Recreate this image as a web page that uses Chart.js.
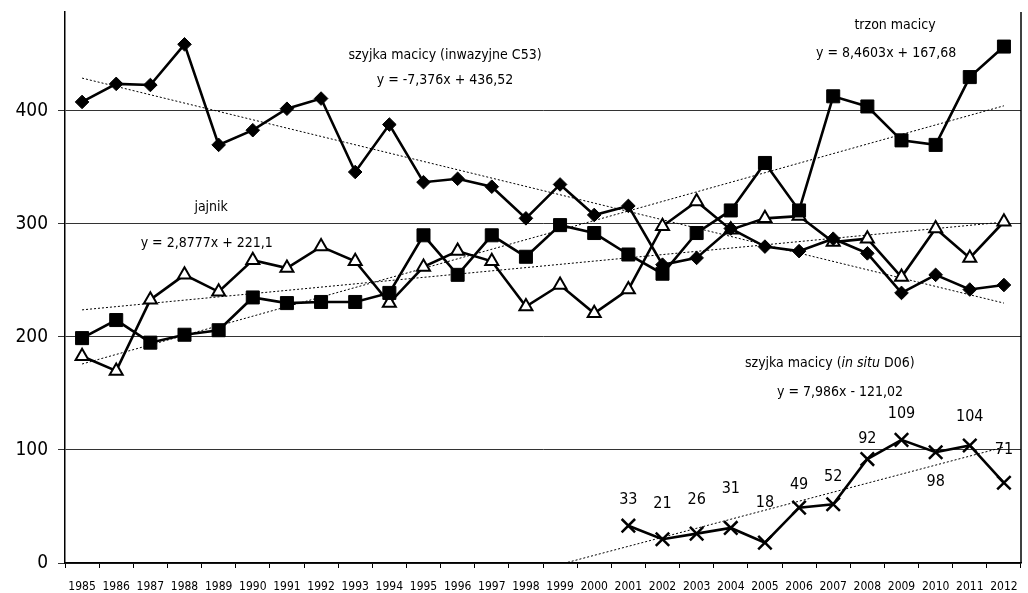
<!DOCTYPE html>
<html><head><meta charset="utf-8">
<script src="https://cdn.jsdelivr.net/npm/chart.js@4.4.1/dist/chart.umd.min.js"></script>
<style>html,body{margin:0;padding:0;background:#fff}</style>
</head><body>
<canvas id="c" width="1028" height="593" style="display:block;width:1028px;height:593px"></canvas>
<script>
const years = ['1985','1986','1987','1988','1989','1990','1991','1992','1993','1994','1995','1996','1997','1998','1999','2000','2001','2002','2003','2004','2005','2006','2007','2008','2009','2010','2011','2012'];
const cervixC53 = [408,424,423,459,370,383,402,411,346,388,337,340,333,305,335,308,316,264,270,296,280,276,287,274,239,255,242,246];
const corpus = [199,215,195,202,206,235,230,231,231,239,290,255,290,271,299,292,273,256,292,312,354,312,413,404,374,370,430,457];
const ovary = [183,170,233,255,240,268,261,280,267,230,262,276,267,227,246,221,242,298,320,295,305,307,284,287,253,296,270,302];
const cervixD06 = [null,null,null,null,null,null,null,null,null,null,null,null,null,null,null,null,33,21,26,31,18,49,52,92,109,98,104,71];
// trend line end values (first / last year of each trend)
const trendC53 = [429.1, 230.0];
const trendCorpus = [176.1, 404.6];
const trendOvary = [224.0, 301.7];
const trendD06Years = ['1999','2012'];
const trendD06 = [-1.2, 102.6];
const yTicks = [0,100,200,300,400];

const FONT = "'DejaVu Sans Condensed','Liberation Sans Narrow','Open Sans',sans-serif";

function trend(vals, yrs){ return [{x: yrs[0], y: vals[0]}, {x: yrs[1], y: vals[1]}]; }

const labelPlugin = {
  id: 'labels',
  afterDraw(chart){
    const ctx = chart.ctx;
    const xs = chart.scales.x, ys = chart.scales.y;
    const a = chart.chartArea;
    ctx.save();
    // right frame line
    ctx.strokeStyle = '#000';
    ctx.lineWidth = 1.5;
    ctx.beginPath(); ctx.moveTo(a.right, a.top); ctx.lineTo(a.right, a.bottom); ctx.stroke();
    ctx.fillStyle = '#000';
    // x axis category labels
    ctx.font = "12px " + FONT;
    ctx.textAlign = 'center';
    ctx.textBaseline = 'middle';
    years.forEach((y, i) => { ctx.fillText(y, xs.getPixelForTick(i), xs.top + 24); });
    // data labels for in situ series
    const meta = chart.getDatasetMeta(3);
    const offs = [-26,-35,-34,-39,-40,-23,-27,-20,-26,30,-29,-33];
    ctx.font = "16px " + FONT;
    let k = 0;
    meta.data.forEach((el, i) => {
      const v = cervixD06[i];
      if (v == null) return;
      ctx.fillText(String(v), el.x, el.y + offs[k]);
      k++;
    });
    const notes = [
      {p:[['szyjka macicy (inwazyjne C53)','']], x:10.63, y:449.6},
      {p:[['y = -7,376x + 436,52','']], x:10.63, y:427.4},
      {p:[['jajnik','']], x:3.78, y:315},
      {p:[['y = 2,8777x + 221,1','']], x:3.65, y:283},
      {p:[['trzon macicy','']], x:23.81, y:476},
      {p:[['y = 8,4603x + 167,68','']], x:23.55, y:451},
      {p:[['szyjka macicy (',''],['in situ','italic '],[' D06)','']], x:21.9, y:177},
      {p:[['y = 7,986x - 121,02','']], x:22.2, y:151.3}
    ];
    ctx.textAlign = 'left';
    notes.forEach(n => {
      let w = 0;
      n.p.forEach(([t, s]) => { ctx.font = s + "14px " + FONT; w += ctx.measureText(t).width; });
      let cx = xs.getPixelForValue(n.x) - w/2;
      const cy = ys.getPixelForValue(n.y);
      n.p.forEach(([t, s]) => { ctx.font = s + "14px " + FONT; ctx.fillText(t, cx, cy); cx += ctx.measureText(t).width; });
    });
    ctx.restore();
  }
};

new Chart(document.getElementById('c'), {
  type: 'line',
  data: {
    labels: years,
    datasets: [
      {data: cervixC53, borderColor:'#000', borderWidth:2.6, pointStyle:'rectRot', pointRadius:6.8, pointBackgroundColor:'#000', pointBorderColor:'#000', pointBorderWidth:1, tension:0},
      {data: corpus, borderColor:'#000', borderWidth:2.6, pointStyle:'rect', pointRadius:9.2, pointBackgroundColor:'#000', pointBorderColor:'#000', pointBorderWidth:1, tension:0},
      {data: ovary, borderColor:'#000', borderWidth:2.6, pointStyle:'triangle', pointRadius:7.5, pointBackgroundColor:'#fff', pointBorderColor:'#000', pointBorderWidth:2, tension:0},
      {data: cervixD06, borderColor:'#000', borderWidth:2.6, pointStyle:'crossRot', pointRadius:9.5, pointBorderColor:'#000', pointBorderWidth:2.5, tension:0},
      {data: trend(trendC53, [years[0], years[27]]), borderColor:'#000', borderWidth:1, borderDash:[2,2], pointRadius:0},
      {data: trend(trendCorpus, [years[0], years[27]]), borderColor:'#000', borderWidth:1, borderDash:[2,2], pointRadius:0},
      {data: trend(trendOvary, [years[0], years[27]]), borderColor:'#000', borderWidth:1, borderDash:[2,2], pointRadius:0},
      {data: trend(trendD06, trendD06Years), borderColor:'#000', borderWidth:1, borderDash:[2,2], pointRadius:0}
    ]
  },
  options: {
    responsive: false,
    animation: false,
    events: [],
    layout: {autoPadding: false, padding: {top: 12, right: 7, left: 0, bottom: 0}},
    plugins: {legend: {display: false}, tooltip: {enabled: false}, title: {display: false}},
    scales: {
      x: {
        offset: true,
        grid: {offset: true, drawOnChartArea: false, tickLength: 5, color: '#000', lineWidth: 1},
        border: {color: '#000', width: 1.5},
        ticks: {display: false, autoSkip: false},
        afterFit: s => { s.height = 30; s.paddingLeft = 0; s.paddingRight = 0; }
      },
      y: {
        min: 0, max: 487.6,
        afterBuildTicks: s => { s.ticks = yTicks.map(v => ({value: v})); },
        grid: {color: '#333', lineWidth: 1, tickLength: 7},
        border: {color: '#000', width: 1.5},
        ticks: {font: {family: FONT, size: 19}, color: '#000', padding: 10},
        afterFit: s => { s.width = 65; s.paddingTop = 0; s.paddingBottom = 0; }
      }
    }
  },
  plugins: [labelPlugin]
});
</script>
</body></html>
